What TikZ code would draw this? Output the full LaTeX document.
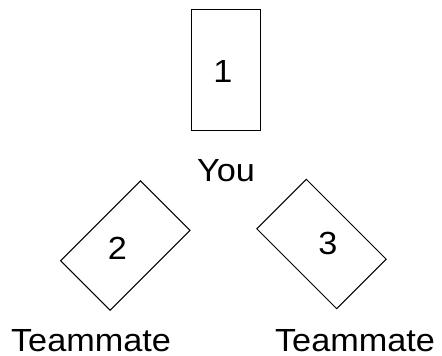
\documentclass[tikz,border=0pt]{standalone}
\usepackage{fontspec}
\setmainfont{Liberation Sans}[FakeStretch=1.07]
\usetikzlibrary{positioning}
\tikzset{
  card/.style  ={rectangle, draw, line width=1pt, inner sep=0pt,
    minimum width=69pt, minimum height=121pt},
  tilted/.style={card, minimum width=70pt, minimum height=113pt, rotate=#1},
  digit/.style ={inner sep=0pt, font=\fontsize{32}{36}\selectfont},
  seat/.style  ={inner sep=0pt, font=\fontsize{32}{36}\selectfont}}

\begin{document}
\begin{tikzpicture}[x=1pt, y=-1pt]
\useasboundingbox (0,0) rectangle (442,356);

% the three cards
\node[card]        (c1) at (226,70) {};
\node[tilted=-45]  (c2) at (125.3,245.5) {};
\node[tilted=45]   (c3) at (321.5,244) {};

% card numbers
\node[digit] (n1) at (223,71)  {1};
\node[digit] (n2) at (117.5,248) {2};
\node[digit] (n3) at (328,243) {3};

% who sits where
\node[seat] (you)   at (226,170.5) {You};
\node[seat] (mateL) at (91,341)  {Teammate};
\node[seat] (mateR) at (355,341) {Teammate};
\end{tikzpicture}
\end{document}
